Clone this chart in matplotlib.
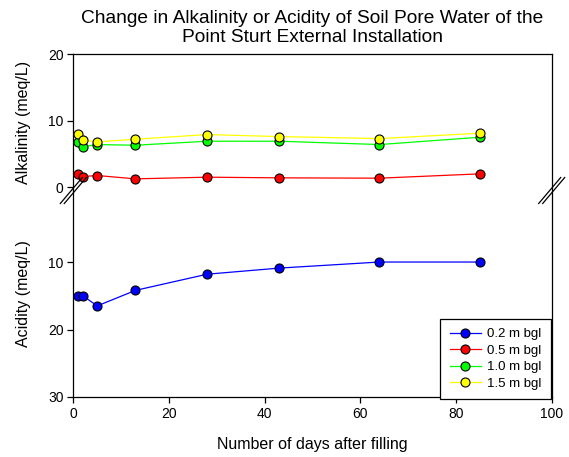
import matplotlib
matplotlib.use("Agg")
import matplotlib.pyplot as plt
from matplotlib.lines import Line2D

plt.rcParams['font.family'] = ['Liberation Sans', 'DejaVu Sans']

days = [1, 2, 5, 13, 28, 43, 64, 85]
acidity_02 = [15.0, 15.0, 16.5, 14.2, 11.8, 10.9, 10.0, 10.0]
alk_05 = [1.95, 1.6, 1.75, 1.25, 1.5, 1.4, 1.35, 2.0]
alk_10 = [6.8, 6.1, 6.4, 6.3, 6.9, 6.9, 6.4, 7.5]
alk_15 = [8.0, 7.1, 6.8, 7.2, 7.9, 7.6, 7.3, 8.1]

labels = ["0.2 m bgl", "0.5 m bgl", "1.0 m bgl", "1.5 m bgl"]
colors = ["#0000ff", "#ff0000", "#00ff00", "#ffff00"]

fig = plt.figure(figsize=(5.69, 4.57), dpi=100)
L, W = 73.3 / 569, (551.7 - 73.3) / 569
y_top = 1 - 54 / 457
y_brk = 1 - 190.5 / 457
y_bot = 1 - 397 / 457
ax1 = fig.add_axes([L, y_brk, W, y_top - y_brk])
ax2 = fig.add_axes([L, y_bot, W, y_brk - y_bot])

mk = dict(marker='o', markersize=6.5, markeredgecolor='black', markeredgewidth=0.8, linewidth=0.9)
ax2.plot(days, acidity_02, color=colors[0], **mk)
ax1.plot(days, alk_05, color=colors[1], **mk)
ax1.plot(days, alk_10, color=colors[2], **mk)
ax1.plot(days, alk_15, color=colors[3], **mk)
for a in (ax1, ax2):
    for c in a.lines:
        c.set_clip_on(False)

ax1.set_xlim(0, 100)
ax2.set_xlim(0, 100)
ax1.set_ylim(-0.5, 20)
ax2.set_ylim(30, -0.6)

ax1.spines['bottom'].set_visible(False)
ax2.spines['top'].set_visible(False)
for a in (ax1, ax2):
    for s in a.spines.values():
        s.set_linewidth(0.9)

ax1.set_yticks([0, 10, 20])
ax2.set_yticks([10, 20, 30])
ax1.set_xticks([])
ax2.set_xticks([0, 20, 40, 60, 80, 100])
for a in (ax1, ax2):
    a.tick_params(direction='out', length=4, width=0.9, labelsize=10, pad=3)
ax1.tick_params(axis='x', bottom=False)

ax1.set_ylabel("Alkalinity (meq/L)", fontsize=11.5)
ax2.set_ylabel("Acidity (meq/L)", fontsize=11.5)
lx = (31 - 73.3) / (551.7 - 73.3)
ax1.yaxis.set_label_coords(lx, 0.5)
ax2.yaxis.set_label_coords(lx, 0.5)
ax2.set_xlabel("Number of days after filling", fontsize=11.5, labelpad=12)

fig.text((73.3 + 551.7) / 2 / 569, 1 - 28 / 457,
         "Change in Alkalinity or Acidity of Soil Pore Water of the\nPoint Sturt External Installation",
         ha='center', va='center', fontsize=13.8, linespacing=1.12)

handles = [Line2D([], [], color=c, **mk) for c in colors]
leg = ax2.legend(handles, labels, loc='lower right', fontsize=9.5, frameon=True,
                 fancybox=False, edgecolor='black', framealpha=1,
                 bbox_to_anchor=(0.998, -0.01), borderaxespad=0, handlelength=2.4,
                 handletextpad=0.45, labelspacing=0.32, borderpad=0.7)
leg.get_frame().set_linewidth(0.9)

# break marks
def brk(xpx):
    yc = 190.5
    for off in (-2, 2):
        x0, y0 = xpx - 11 + off, yc + 13
        x1, y1 = xpx + 11 + off, yc - 13
        fig.add_artist(Line2D([x0 / 569, x1 / 569], [1 - y0 / 457, 1 - y1 / 457],
                              color='black', linewidth=0.9))

brk(73.3)
brk(551.7)

fig.savefig("out.png", dpi=100)
